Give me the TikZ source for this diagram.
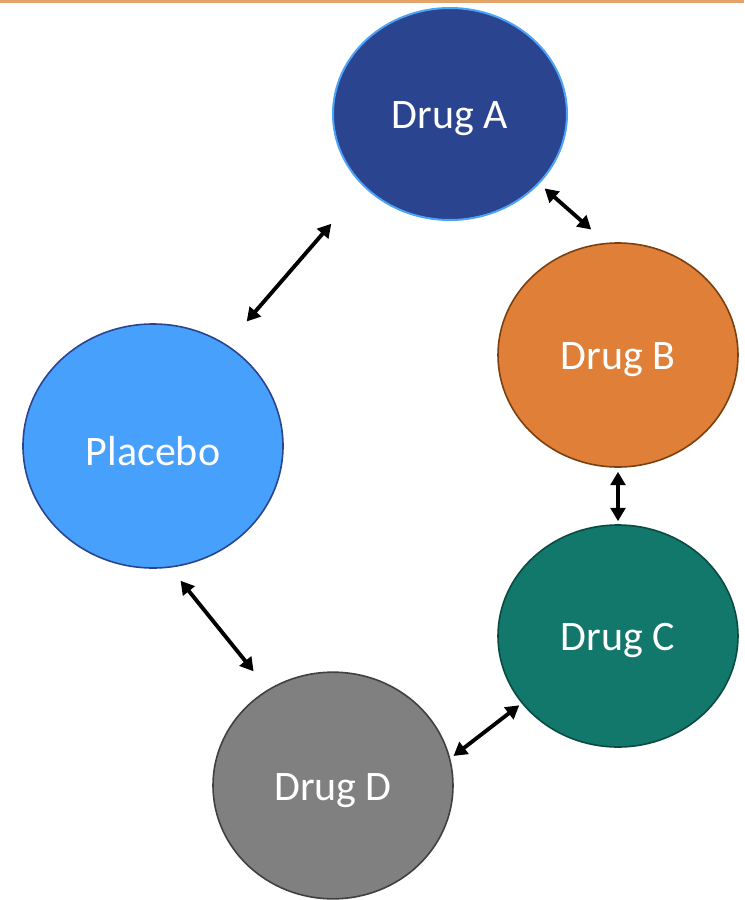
\documentclass[tikz,border=0pt]{standalone}
\usepackage{fontspec}
\setmainfont{Carlito}
\usetikzlibrary{arrows.meta,shapes.geometric}
\definecolor{cAfill}{HTML}{2B4490}
\definecolor{cAline}{HTML}{4DA3F5}
\definecolor{cBfill}{HTML}{E07F37}
\definecolor{cBline}{HTML}{7A4010}
\definecolor{cPfill}{HTML}{47A0FC}
\definecolor{cPline}{HTML}{2B4490}
\definecolor{cCfill}{HTML}{12786B}
\definecolor{cCline}{HTML}{0B4A42}
\definecolor{cDfill}{HTML}{808080}
\definecolor{cDline}{HTML}{404040}
\definecolor{topline}{HTML}{E3A46C}
\newcommand{\drugtxt}[1]{\raisebox{0pt}[\dimexpr\height+7pt\relax][\depth]{#1}}
\tikzset{
  drugnode/.style={ellipse, inner sep=0pt, line width=1.2pt, text=white,
    font=\fontsize{31.5}{38}\selectfont},
  biarrow/.style={line width=2.9pt, {Triangle[length=10pt,width=11pt]}-{Triangle[length=10pt,width=11pt]}}
}
\begin{document}
\begin{tikzpicture}[x=0.75pt,y=-0.75pt]
\useasboundingbox (0,0) rectangle (744,900);
\fill[topline] (0,0) rectangle (744,2.5);
\node[drugnode, fill=cAfill, draw=cAline, line width=1.5pt, minimum width=175.5pt, minimum height=159pt] (A) at (450,114) {\drugtxt{Drug A}};
\node[drugnode, fill=cBfill, draw=cBline, minimum width=180pt, minimum height=168pt] (B) at (618,355) {\drugtxt{Drug B}};
\node[drugnode, fill=cPfill, draw=cPline, minimum width=195pt, minimum height=183pt] (P) at (153,446) {\drugtxt{Placebo}};
\node[drugnode, fill=cCfill, draw=cCline, minimum width=180pt, minimum height=166.5pt] (C) at (618,636) {\drugtxt{Drug C}};
\node[drugnode, fill=cDfill, draw=cDline, minimum width=180pt, minimum height=170pt] (D) at (333,785.5) {\drugtxt{Drug D}};
\draw[biarrow, shorten <=22.9pt, shorten >=36.8pt] (P.54) -- (A.220);
\draw[biarrow, shorten <=5.25pt, shorten >=15pt] (A.322) -- (B.96.6);
\draw[biarrow, shorten <=3pt, shorten >=2.25pt] (B.south) -- (C.north);
\draw[biarrow, shorten <=12.5pt, shorten >=17.25pt] (P.278.5) -- (D.124.5);
\draw[biarrow, shorten <=3pt, shorten >=2.25pt] (D.13) -- (C.215.6);
\end{tikzpicture}
\end{document}
